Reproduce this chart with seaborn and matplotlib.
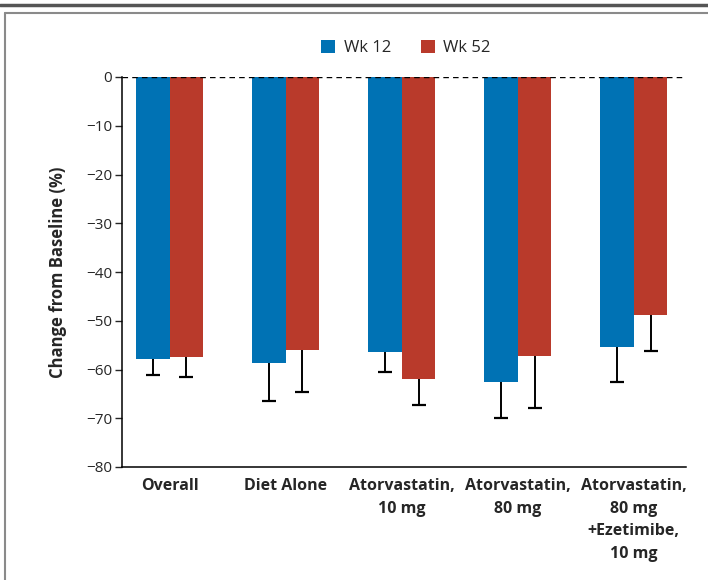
import pandas as pd
import numpy as np
import matplotlib
matplotlib.use("Agg")
import matplotlib.pyplot as plt
from matplotlib.patches import Patch
from matplotlib.lines import Line2D
import seaborn as sns

# Values
groups = ["Overall", "Diet Alone", "Atorvastatin,\n10 mg", "Atorvastatin,\n80 mg",
          "Atorvastatin,\n80 mg\n+Ezetimibe,\n10 mg"]
series = ["Wk 12", "Wk 52"]
wk12 = [-57.9, -58.6, -56.4, -62.6, -55.3]
wk12_err = [3.2, 7.9, 4.2, 7.4, 7.3]
wk52 = [-57.4, -56.1, -62.0, -57.2, -48.8]
wk52_err = [4.1, 8.5, 5.3, 10.7, 7.5]
yticks = [0, -10, -20, -30, -40, -50, -60, -70, -80]

colors = {"Wk 12": "#0072b4", "Wk 52": "#b93a2b"}

df = pd.DataFrame({
    "group": groups * 2,
    "week": ["Wk 12"] * len(groups) + ["Wk 52"] * len(groups),
    "change": wk12 + wk52,
})

sns.set_style("white")
plt.rcParams["font.family"] = ["Open Sans", "DejaVu Sans"]

fig = plt.figure(figsize=(7.08, 5.8), dpi=100)
ax = fig.add_axes([122 / 708, 113 / 580, 564 / 708, 390 / 580])

sns.barplot(data=df, x="group", y="change", hue="week", palette=colors,
            width=0.58, errorbar=None, ax=ax, saturation=1, legend=False,
            linewidth=0, zorder=2)

# one-sided (downward) error bars
for cont, vals, errs in zip(ax.containers, [wk12, wk52], [wk12_err, wk52_err]):
    xs = [b.get_x() + b.get_width() / 2 for b in cont]
    _, caps, _ = ax.errorbar(xs, vals, yerr=[errs, np.zeros(len(errs))], fmt="none",
                             ecolor="black", elinewidth=1.4, capsize=5, capthick=1.6,
                             zorder=1)
    for c in caps:
        if np.allclose(c.get_ydata(), vals):
            c.set_visible(False)

ax.axhline(0, color="black", lw=1.0, ls=(0, (4, 3)), zorder=3)

ax.set_ylim(-80, 0)
ax.set_xlim(-0.41, 4.45)
ax.set_yticks(yticks)
ax.set_yticklabels([str(t).replace("-", "\u2212") for t in yticks], fontsize=11)
ax.tick_params(axis="y", length=5, width=1, direction="out", left=True, pad=2)
ax.tick_params(axis="x", length=0, pad=8)
for lab in ax.get_xticklabels():
    lab.set_fontweight("bold")
    lab.set_fontsize(11.5)
    lab.set_verticalalignment("top")
    lab.set_linespacing(1.55)
ax.set_xlabel("")
ax.set_ylabel("Change from Baseline (%)", fontsize=12, fontweight="bold", labelpad=14)

sns.despine(ax=ax, top=True, right=True)
ax.spines["left"].set_linewidth(1.1)
ax.spines["bottom"].set_linewidth(1.1)
ax.spines["left"].set_color("black")
ax.spines["bottom"].set_color("black")

handles = [Patch(facecolor=colors[s], edgecolor="none") for s in series]
fig.legend(handles, series, loc="center", bbox_to_anchor=(406 / 708, 1 - 48 / 580),
           ncol=2, frameon=False, fontsize=12, handlelength=0.85, handleheight=0.85,
           handletextpad=0.5, columnspacing=1.8)

# framing lines of the original figure panel
fig.add_artist(Line2D([0, 1], [1 - 5 / 580] * 2, color="#555555", lw=2.5))
fig.add_artist(Line2D([5 / 708, 5 / 708], [0, 1 - 13 / 580], color="#8a8a8a", lw=1.5))
fig.add_artist(Line2D([5 / 708, 1], [1 - 13 / 580] * 2, color="#8a8a8a", lw=1.5))

fig.savefig("out.png", dpi=100)
